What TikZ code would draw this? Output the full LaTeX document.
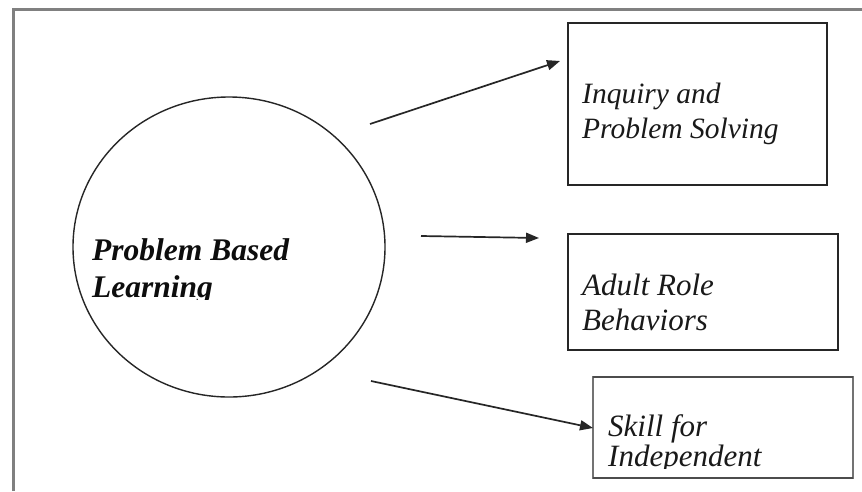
\documentclass[tikz,border=0pt]{standalone}
\usepackage{fontspec}
\setmainfont{Liberation Serif}
\usetikzlibrary{arrows.meta,shapes.geometric}
\begin{document}
\begin{tikzpicture}[x=1pt,y=-1pt,
  frame/.style={draw=black!50, line width=3pt},
  boxline/.style={draw=black!85, line width=1.8pt, inner sep=0pt, outer sep=0pt},
  conn/.style={line width=1.7pt, draw=black!85, -{Triangle[length=13pt,width=10pt]}},
  itext/.style={anchor=base west, inner sep=0pt, font=\itshape\fontsize{30}{35}\selectfont, text=black!90},
  btext/.style={anchor=base west, inner sep=0pt, font=\bfseries\itshape\fontsize{31.5}{37}\selectfont, text=black!95}]
\useasboundingbox (0,0) rectangle (862,491);
\fill[white] (0,0) rectangle (862,491);
\draw[frame] (13,491) -- (13,9) -- (862,9);

% central ellipse
\node[draw=black!85, line width=1.4pt, ellipse, inner sep=0pt, minimum width=312pt, minimum height=300pt] (pbl) at (229,247) {};

% boxes
\node[boxline, minimum width=259pt, minimum height=162pt] (b1) at (697.5,104) {};
\node[boxline, minimum width=270pt, minimum height=116pt] (b2) at (703,292) {};
\node[draw=black!55, line width=1.2pt, inner sep=0pt, outer sep=0pt, minimum width=260pt, minimum height=101pt] (b3) at (723,427.5) {};
\draw[draw=black!70, line width=2pt] (b3.north west) -- (b3.north east);
\draw[draw=black!70, line width=2pt] (b3.south west) -- (b3.south east);

% texts
\node[btext] (t1) at (92,260) {Problem Based};
\begin{scope}
  \clip (0,0) rectangle (862,299);
  \node[btext] (t2) at (92,297) {Learning};
\end{scope}

\node[itext, font=\itshape\fontsize{29.5}{35}\selectfont] (t3) at (582,103) {Inquiry and};
\node[itext, font=\itshape\fontsize{29.5}{35}\selectfont] (t4) at (582,138) {Problem Solving};

\node[itext, font=\itshape\fontsize{31}{35}\selectfont] (t5) at (582,295) {Adult Role};
\begin{scope}
  \clip (0,0) rectangle (862,333);
  \node[itext, font=\itshape\fontsize{31}{35}\selectfont] (t6) at (582,330) {Behaviors};
\end{scope}

\node[itext, font=\itshape\fontsize{31}{35}\selectfont] (t7) at (608,436) {Skill for};
\begin{scope}
  \clip (0,0) rectangle (862,468);
  \node[itext, font=\itshape\fontsize{31}{35}\selectfont] (t8) at (608,466) {Independent};
\end{scope}

% connectors
\coordinate (a1s) at (370,124);
\coordinate (a1e) at (560,61);
\coordinate (a2s) at (421,236);
\coordinate (a2e) at (539,238);
\coordinate (a3s) at (371,381);
\coordinate (a3e) at (593,428);
\draw[conn] (a1s) -- (a1e);
\draw[conn] (a2s) -- (a2e);
\draw[conn] (a3s) -- (a3e);
\end{tikzpicture}
\end{document}
